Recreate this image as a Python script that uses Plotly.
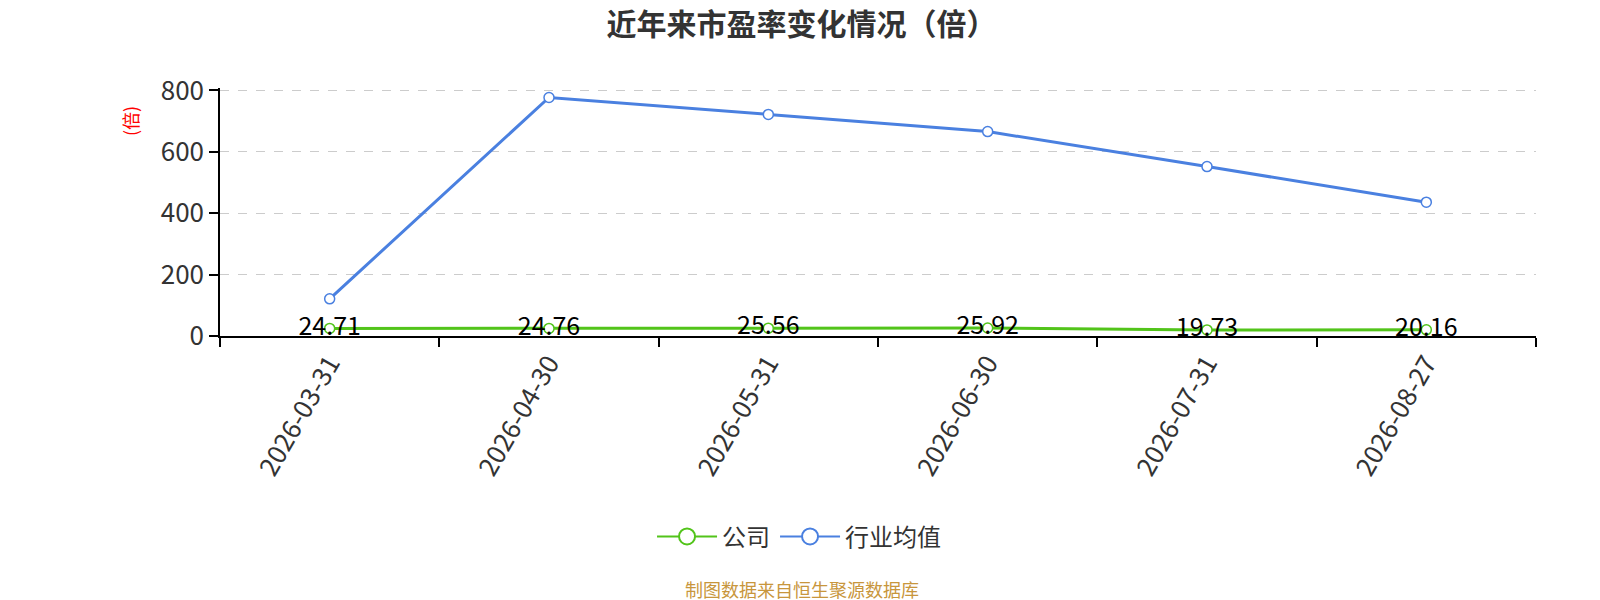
import plotly.graph_objects as go

dates = ["2026-03-31", "2026-04-30", "2026-05-31", "2026-06-30", "2026-07-31", "2026-08-27"]
company = [24.71, 24.76, 25.56, 25.92, 19.73, 20.16]
industry = [121, 777, 722, 666, 552, 436]
y_ticks = [0, 200, 400, 600, 800]

GREEN = "#52c41a"
BLUE = "#4a80e0"
FONT = "Noto Sans CJK SC"

fig = go.Figure()
fig.add_trace(go.Scatter(
    x=dates, y=company, name="公司", mode="lines+markers+text", showlegend=False,
    line=dict(color=GREEN, width=3),
    marker=dict(size=10, color="white", line=dict(color=GREEN, width=1.5)),
    text=[f"{v:.2f}" for v in company], textposition="middle center",
    textfont=dict(size=25, color="#000000", family=FONT),
))
fig.add_trace(go.Scatter(
    x=dates, y=industry, name="行业均值", mode="lines+markers", showlegend=False,
    line=dict(color=BLUE, width=3),
    marker=dict(size=10, color="white", line=dict(color=BLUE, width=1.5)),
))
# legend entries with large hollow circles
for nm, col in [("公司", GREEN), ("行业均值", BLUE)]:
    fig.add_trace(go.Scatter(
        x=[None], y=[None], name=nm, mode="lines+markers",
        line=dict(color=col, width=2),
        marker=dict(size=20, color="white", line=dict(color=col, width=2)),
    ))

fig.update_layout(
    width=1600, height=600,
    paper_bgcolor="white", plot_bgcolor="white",
    margin=dict(l=212, r=72, t=80, b=272),
    font=dict(family=FONT, color="#333333"),
    title=dict(text="<b>近年来市盈率变化情况（倍）</b>", x=0.496, xanchor="center",
               y=0.99, yanchor="top", font=dict(size=30, color="#333333", family=FONT)),
    showlegend=True,
    legend=dict(orientation="h", x=0.44, xanchor="center", y=-0.81, yanchor="middle",
                font=dict(size=24, color="#333333", family=FONT), itemsizing="trace",
                itemwidth=60),
    xaxis=dict(type="category", range=[-0.5, 5.5], tickson="boundaries", automargin=False,
               ticks="outside", ticklen=9, tickcolor="#000", tickwidth=1.5,
               showline=True, linecolor="#000", linewidth=1.5,
               showgrid=False, tickangle=-60,
               tickfont=dict(size=26, color="#333333", family=FONT)),
    yaxis=dict(range=[0, 808], tickvals=y_ticks, ticks="outside", ticklen=9, automargin=False,
               tickcolor="#000", tickwidth=1.5,
               showline=True, linecolor="#000", linewidth=1.5,
               showgrid=True, gridcolor="#cccccc", griddash="dash", gridwidth=1.2,
               zeroline=False,
               tickfont=dict(size=26, color="#333333", family=FONT)),
    annotations=[
        dict(text="(倍)", xref="paper", yref="paper", x=-0.068, y=0.865,
             xanchor="center", yanchor="middle",
             textangle=-90, showarrow=False, font=dict(size=18, color="red", family=FONT)),
        dict(text="制图数据来自恒生聚源数据库", xref="paper", yref="paper", x=0.442, y=-1.02,
             xanchor="center", yanchor="middle", showarrow=False,
             font=dict(size=18, color="#c8963c", family=FONT)),
    ],
)

fig.write_html("out.html")
